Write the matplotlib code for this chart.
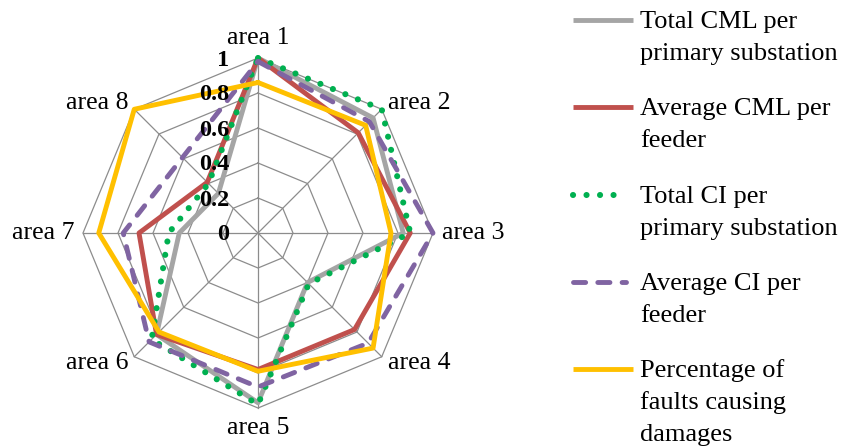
import numpy as np
import matplotlib
matplotlib.use("Agg")
import matplotlib.pyplot as plt
from matplotlib import transforms

plt.rcParams["font.family"] = ["Liberation Serif", "DejaVu Serif"]

# ---- data -------------------------------------------------------------
areas = ["area 1", "area 2", "area 3", "area 4",
         "area 5", "area 6", "area 7", "area 8"]
ring_levels = [0, 0.2, 0.4, 0.6, 0.8, 1]
ring_labels = ["0", "0.2", "0.4", "0.6", "0.8", "1"]

total_cml_primary = [1.00, 0.93, 0.83, 0.40, 0.97, 0.82, 0.45, 0.32]
avg_cml_feeder = [1.00, 0.81, 0.87, 0.78, 0.78, 0.82, 0.68, 0.41]
total_ci_primary = [1.00, 1.00, 0.87, 0.41, 0.98, 0.86, 0.51, 0.40]
avg_ci_feeder = [0.98, 0.90, 1.00, 0.89, 0.88, 0.88, 0.77, 0.61]
pct_faults_damage = [0.86, 0.87, 0.76, 0.93, 0.79, 0.80, 0.91, 1.00]

series_names = [
    ["Total CML per", "primary substation"],
    ["Average CML per", "feeder"],
    ["Total CI per", "primary substation"],
    ["Average CI per", "feeder"],
    ["Percentage of", "faults causing", "damages"],
]
series_values = [total_cml_primary, avg_cml_feeder, total_ci_primary,
                 avg_ci_feeder, pct_faults_damage]

# ---- styles -----------------------------------------------------------
styles = [
    dict(color="#A5A5A5", linestyle="-", lw=3.5),
    dict(color="#C0504D", linestyle="-", lw=3.5),
    dict(color="#00B050", linestyle=(0, (0.01, 2.2)), dash_capstyle="round",
         lw=4.4),
    dict(color="#8064A2", linestyle=(0, (2.5, 2.5)), dash_capstyle="round",
         lw=3.5),
    dict(color="#FFC000", linestyle="-", lw=3.5),
]
GRID = "#8C8C8C"

W, H, DPI = 841, 447, 100
fig = plt.figure(figsize=(W / DPI, H / DPI), dpi=DPI)

cx, cy, R = 258, 233, 175
ax = fig.add_axes([(cx - R) / W, (H - cy - R) / H, 2 * R / W, 2 * R / H],
                  projection="polar")
ax.set_theta_offset(np.pi / 2)
ax.set_theta_direction(-1)
ax.set_ylim(0, 1)
ax.set_axis_off()

theta = np.linspace(0, 2 * np.pi, len(areas), endpoint=False)
theta_c = np.append(theta, theta[0])

# octagonal grid rings and spokes
for lvl in ring_levels[1:]:
    ax.plot(theta_c, [lvl] * len(theta_c), color=GRID, lw=0.9,
            zorder=1, clip_on=False)
for t in theta:
    ax.plot([t, t], [0, ring_levels[-1]], color=GRID, lw=0.9,
            zorder=1, clip_on=False)

# data series
for vals, st in zip(series_values, styles):
    v = np.append(vals, vals[0])
    ax.plot(theta_c, v, solid_joinstyle="round",
            solid_capstyle="round", zorder=3, clip_on=False, **st)

# ring value labels
shift = transforms.ScaledTranslation(-29 / DPI, -2 / DPI, fig.dpi_scale_trans)
for lvl, lab in zip(ring_levels, ring_labels):
    ax.text(0, lvl, lab, transform=ax.transData + shift, ha="right",
            va="center", fontsize=17.5, fontweight="bold", zorder=10)

# category labels
for t, name in zip(theta, areas):
    s, c = np.sin(t), np.cos(t)
    ha = "center" if abs(s) < 1e-6 else ("left" if s > 0 else "right")
    va = "center" if abs(c) > 1e-6 and abs(s) > 1e-6 else (
        "center" if abs(c) < 1e-6 else ("bottom" if c > 0 else "top"))
    ax.text(t, 1.05, name, ha=ha, va=va, fontsize=18.5, zorder=10)

# legend
lg = fig.add_axes([0, 0, 1, 1])
lg.set_xlim(0, W)
lg.set_ylim(H, 0)
lg.set_axis_off()
entry_y = [20, 107, 195, 282, 369]
for y, st, lines in zip(entry_y, styles, series_names):
    end = 633 if st["linestyle"] == "-" else 626
    lg.plot([573, end], [y, y], solid_capstyle="butt", **st)
    for k, line in enumerate(lines):
        lg.text(640, y + 8 + 32 * k, line, ha="left", va="baseline",
                fontsize=19)

fig.savefig("out.png", dpi=DPI)
